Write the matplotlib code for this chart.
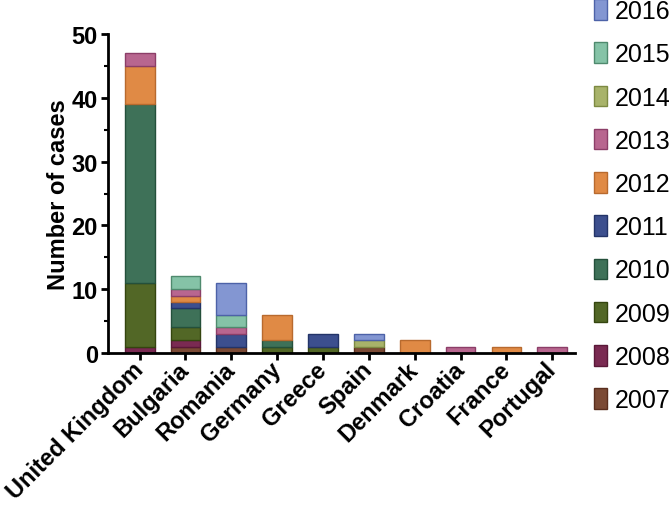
import numpy as np
import matplotlib
matplotlib.use("Agg")
import matplotlib.pyplot as plt
from matplotlib.patches import Patch
from matplotlib.ticker import MultipleLocator

plt.rcParams["font.family"] = ["Liberation Sans", "DejaVu Sans"]

countries = ["United Kingdom", "Bulgaria", "Romania", "Germany", "Greece",
             "Spain", "Denmark", "Croatia", "France", "Portugal"]
years = ["2007", "2008", "2009", "2010", "2011", "2012", "2013", "2014", "2015", "2016"]

# cases per year, one list per year, in country order
y2007 = [0, 1, 1, 0, 0, 1, 0, 0, 0, 0]
y2008 = [1, 1, 0, 0, 0, 0, 0, 0, 0, 0]
y2009 = [10, 2, 0, 1, 1, 0, 0, 0, 0, 0]
y2010 = [28, 3, 0, 1, 0, 0, 0, 0, 0, 0]
y2011 = [0, 1, 2, 0, 2, 0, 0, 0, 0, 0]
y2012 = [6, 1, 0, 4, 0, 0, 2, 0, 1, 0]
y2013 = [2, 1, 1, 0, 0, 0, 0, 1, 0, 1]
y2014 = [0, 0, 0, 0, 0, 1, 0, 0, 0, 0]
y2015 = [0, 2, 2, 0, 0, 0, 0, 0, 0, 0]
y2016 = [0, 0, 5, 0, 0, 1, 0, 0, 0, 0]
series = [y2007, y2008, y2009, y2010, y2011, y2012, y2013, y2014, y2015, y2016]

face = ["#7b4a35", "#7a2a52", "#526726", "#3e7158", "#3c4f8e",
        "#e08a45", "#b8668f", "#a8b36a", "#85c3a7", "#8396d2"]
edge = ["#5a2e1e", "#5a1838", "#34450f", "#24503b", "#233468",
        "#b86a2e", "#8c3e68", "#7d8a42", "#4f8a6e", "#4d62a8"]

fig = plt.figure(figsize=(6.72, 5.10), dpi=100)
ax = fig.add_axes([0.160, 0.306, 0.696, 0.625])

x = np.arange(len(countries))
bottom = np.zeros(len(countries))
for vals, fc, ec in zip(series, face, edge):
    v = np.array(vals, dtype=float)
    m = v > 0
    ax.bar(x[m], v[m], width=0.65, bottom=bottom[m], color=fc, edgecolor=ec, linewidth=1.0)
    bottom += v

ax.set_xlim(-0.7, 9.5)
ax.set_ylim(0, 50)
ax.yaxis.set_major_locator(MultipleLocator(10))
ax.yaxis.set_minor_locator(MultipleLocator(5))
ax.set_xticks(x)
ax.set_xticklabels(countries, rotation=45, ha="right", va="center", rotation_mode="anchor",
                   fontsize=17, fontweight="bold")
for lab in ax.get_yticklabels():
    lab.set_fontsize(17)
    lab.set_fontweight("bold")
ax.set_ylabel("Number of cases", fontsize=17, fontweight="bold", labelpad=1)

for s in ["top", "right"]:
    ax.spines[s].set_visible(False)
for s in ["left", "bottom"]:
    ax.spines[s].set_linewidth(2)
ax.tick_params(axis="both", which="major", width=2, length=5, pad=2)
ax.tick_params(axis="x", which="major", pad=4)
ax.tick_params(axis="y", which="minor", width=1.5, length=3)

handles = [Patch(facecolor=fc, edgecolor=ec, linewidth=1.0, label=yr)
           for yr, fc, ec in zip(years, face, edge)]
fig.legend(handles=handles[::-1], loc="upper left", bbox_to_anchor=(0.884, 1.0),
           frameon=False, fontsize=18, handlelength=0.52, handleheight=0.88,
           handletextpad=0.3, labelspacing=0.77, borderaxespad=0, borderpad=0)

fig.savefig("out.png", dpi=100)
